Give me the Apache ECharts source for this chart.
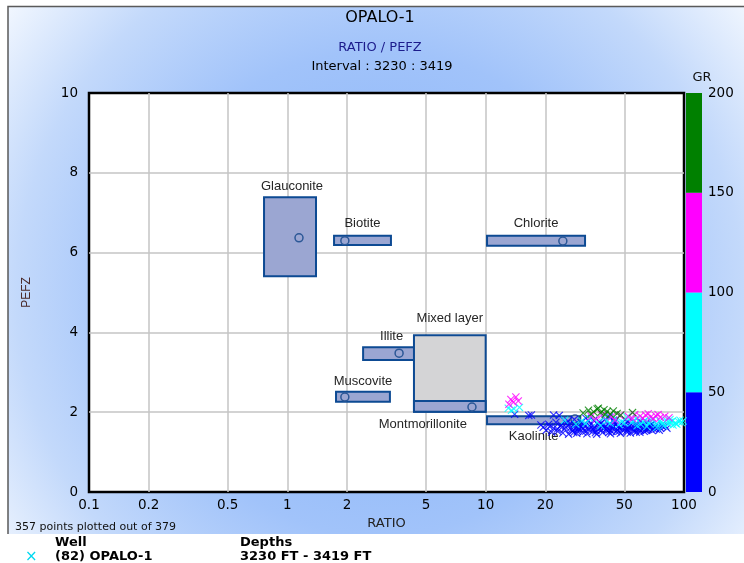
<!DOCTYPE html>
<html>
<head>
<meta charset="utf-8">
<title>OPALO-1 RATIO / PEFZ</title>
<script src="https://cdn.jsdelivr.net/npm/echarts@6/dist/echarts.min.js"></script>
<style>
  html, body { margin: 0; padding: 0; background: #fff; }
  #chart { width: 744px; height: 563px; }
</style>
</head>
<body>
<div id="chart"></div>
<script>
// axis ticks
const ratioTicks = [0.1, 0.2, 0.5, 1, 2, 5, 10, 20, 50, 100]
const grTicks = [0, 50, 100, 150, 200]
const grColors = ['#0000ff', '#00ffff', '#ff00ff', '#008000']

// mineral boxes: ratio range, pefz range, marker point
const mineralNames = ['Glauconite', 'Biotite', 'Chlorite', 'Illite', 'Mixed layer', 'Montmorillonite', 'Muscovite', 'Kaolinite']
const ratioLow = [0.763, 1.72, 10.16, 2.41, 4.35, 4.35, 1.76, 10.16]
const ratioHigh = [1.395, 3.33, 31.7, 4.89, 10.0, 10.0, 3.29, 30.0]
const pefzLow = [5.41, 6.19, 6.17, 3.31, 2.01, 2.01, 2.26, 1.70]
const pefzHigh = [7.39, 6.42, 6.42, 3.63, 3.93, 2.28, 2.51, 1.90]
const markRatio = [1.145, 1.95, 24.5, 3.66, null, 8.53, 1.95, 28.2]
const markPefz = [6.37, 6.30, 6.29, 3.48, null, 2.13, 2.38, 1.83]

// scatter points [RATIO, PEFZ, GR]
const gammaLow = [
  [14.0, 1.95, 30], [16.5, 1.92, 25], [17.0, 1.93, 35], [22.0, 1.93, 40], [23.5, 1.92, 30],
  [19.5, 1.62, 22], [20.2, 1.55, 31], [20.8, 1.70, 18], [21.5, 1.50, 27], [22.0, 1.60, 35],
  [22.6, 1.75, 24], [23.1, 1.52, 38], [23.8, 1.65, 29], [24.5, 1.48, 20], [25.0, 1.58, 33],
  [25.6, 1.72, 26], [26.2, 1.45, 41], [26.9, 1.62, 19], [27.5, 1.53, 30], [28.1, 1.68, 36],
  [28.8, 1.47, 23], [29.5, 1.60, 28], [30.2, 1.74, 34], [30.9, 1.50, 21], [31.6, 1.64, 39],
  [32.4, 1.46, 25], [33.1, 1.57, 32], [33.9, 1.70, 27], [34.7, 1.52, 37], [35.5, 1.63, 22],
  [36.3, 1.45, 30], [37.1, 1.58, 42], [38.0, 1.72, 26], [38.9, 1.49, 33], [39.8, 1.61, 20],
  [40.7, 1.54, 35], [41.6, 1.68, 29], [42.6, 1.46, 24], [43.6, 1.59, 38], [44.6, 1.73, 31],
  [45.6, 1.51, 27], [46.7, 1.64, 22], [47.8, 1.47, 36], [48.9, 1.56, 40], [50.0, 1.70, 25],
  [51.2, 1.53, 30], [52.4, 1.62, 34], [53.6, 1.48, 21], [54.8, 1.58, 28], [56.1, 1.67, 37],
  [57.4, 1.50, 24], [58.7, 1.60, 32], [60.1, 1.55, 26], [61.5, 1.66, 39], [63.0, 1.52, 30],
  [64.5, 1.61, 23], [66.0, 1.57, 35], [67.5, 1.68, 28], [69.1, 1.54, 33], [70.7, 1.63, 25],
  [72.4, 1.58, 31], [74.1, 1.66, 38], [76.0, 1.60, 27], [78.0, 1.64, 34], [82.0, 1.60, 29],
  [35.0, 1.80, 44], [40.0, 1.82, 41], [45.0, 1.78, 46], [50.5, 1.81, 43], [55.5, 1.76, 40],
  [28.0, 1.82, 45], [32.0, 1.85, 42], [60.0, 1.77, 47], [65.0, 1.74, 44], [42.0, 1.88, 48],
  [37.5, 1.76, 39], [27.0, 1.56, 24], [31.0, 1.58, 29], [36.0, 1.54, 33], [41.0, 1.60, 27],
  [46.0, 1.56, 31], [52.0, 1.57, 22], [57.0, 1.55, 36], [62.0, 1.59, 28], [68.0, 1.62, 34],
  [44.0, 1.66, 25], [39.0, 1.67, 30], [34.0, 1.61, 37], [48.0, 1.63, 26], [54.0, 1.70, 32],
  [30.0, 1.66, 23], [24.0, 1.68, 35], [29.0, 1.52, 28], [43.0, 1.52, 31], [58.0, 1.64, 27],
  [25.3, 1.63, 28], [26.5, 1.69, 33], [27.8, 1.49, 25], [29.2, 1.57, 37], [30.6, 1.62, 22],
  [32.0, 1.53, 30], [33.4, 1.66, 35], [34.9, 1.58, 27], [36.8, 1.69, 32], [38.4, 1.55, 24],
  [40.2, 1.65, 38], [42.0, 1.57, 29], [43.9, 1.63, 23], [45.2, 1.69, 34], [47.2, 1.59, 26],
  [49.4, 1.66, 31], [51.7, 1.50, 36], [53.1, 1.65, 28], [55.6, 1.53, 24], [57.9, 1.69, 35],
  [59.4, 1.58, 30], [61.0, 1.71, 27], [63.7, 1.56, 33], [66.8, 1.65, 25], [70.0, 1.59, 38],
  [73.4, 1.61, 29], [77.0, 1.67, 34], [21.0, 1.64, 30], [23.0, 1.58, 26], [19.0, 1.68, 33],
  [35.8, 1.49, 31], [41.8, 1.50, 27], [50.8, 1.59, 35], [59.9, 1.50, 23], [64.9, 1.55, 30],
  [26.0, 1.78, 38], [33.0, 1.79, 41], [44.0, 1.80, 36], [52.0, 1.76, 40], [62.0, 1.73, 42],
  [47.0, 1.52, 24], [38.5, 1.62, 31], [31.3, 1.70, 29], [28.4, 1.60, 34], [54.2, 1.62, 26],
  [68.9, 1.70, 37], [75.0, 1.55, 32], [80.5, 1.65, 28]
]
const gammaMid = [
  [13.0, 2.10, 70], [13.9, 2.08, 80], [14.8, 2.12, 65], [13.5, 2.05, 90],
  [30.5, 1.78, 70], [33.5, 1.84, 65], [36.5, 1.75, 80], [39.5, 1.86, 75], [42.5, 1.72, 60],
  [45.5, 1.83, 85], [48.5, 1.76, 70], [51.5, 1.88, 90], [54.5, 1.74, 65], [57.5, 1.84, 75],
  [60.5, 1.70, 60], [63.5, 1.80, 80], [66.5, 1.73, 70], [69.5, 1.82, 85], [72.5, 1.70, 65],
  [75.5, 1.78, 75], [78.5, 1.72, 60], [81.5, 1.80, 70], [84.5, 1.74, 80], [87.5, 1.78, 65],
  [90.5, 1.72, 75], [94.0, 1.76, 70], [97.0, 1.74, 60], [99.0, 1.78, 80], [88.0, 1.68, 55],
  [92.0, 1.70, 65], [38.0, 1.66, 55], [47.0, 1.69, 60], [58.0, 1.66, 58], [65.0, 1.64, 62],
  [73.0, 1.62, 56], [25.0, 1.80, 60], [28.5, 1.70, 66], [79.0, 1.66, 72], [85.0, 1.82, 68],
  [32.0, 1.72, 70], [41.0, 1.78, 60], [50.0, 1.73, 75], [56.0, 1.79, 65], [62.5, 1.76, 85],
  [68.0, 1.77, 70], [76.5, 1.74, 55], [83.0, 1.70, 66], [95.5, 1.80, 72], [86.0, 1.76, 64]
]
const gammaHigh = [
  [13.4, 2.32, 120], [14.2, 2.38, 125], [13.1, 2.20, 115], [13.8, 2.25, 130], [14.6, 2.28, 110],
  [34.0, 1.90, 120], [38.5, 1.93, 130], [43.0, 1.88, 115], [47.5, 1.92, 125], [52.5, 1.89, 110],
  [56.5, 1.94, 135], [60.0, 1.90, 120], [64.0, 1.93, 115], [68.0, 1.88, 125], [72.0, 1.91, 110],
  [76.0, 1.87, 130], [80.0, 1.90, 120], [84.0, 1.86, 115], [55.0, 1.84, 105], [62.0, 1.85, 140],
  [70.0, 1.84, 118], [45.0, 1.80, 112], [36.0, 1.83, 128], [66.0, 1.96, 122], [74.0, 1.94, 116]
]
const gammaVeryHigh = [
  [31.0, 1.98, 170], [33.0, 2.05, 180], [35.0, 2.01, 165], [36.5, 2.08, 175], [38.0, 1.99, 160],
  [39.5, 2.06, 185], [41.0, 2.02, 170], [42.5, 1.95, 165], [44.0, 2.03, 175], [46.0, 1.97, 160],
  [48.0, 1.93, 170], [55.0, 1.99, 165], [34.0, 1.95, 160], [40.0, 1.94, 172], [37.0, 2.10, 178]
]

const lg = v => Math.log10(v)
const points = gammaLow.concat(gammaMid, gammaHigh, gammaVeryHigh).map(p => [lg(p[0]), p[1], p[2]])

const mineralData = mineralNames.map((name, i) => ({
  name,
  value: [lg(ratioLow[i]), lg(ratioHigh[i]), pefzLow[i], pefzHigh[i],
    markRatio[i] == null ? null : lg(markRatio[i]), markPefz[i]]
}))

// where each mineral's name sits relative to its box
const labelPlace = {
  'Glauconite': { side: 'top', gap: 11, dx: 2 },
  'Biotite': { side: 'top', gap: 12, dx: 0 },
  'Chlorite': { side: 'top', gap: 12, dx: 0 },
  'Illite': { side: 'top', gap: 11, dx: -2 },
  'Mixed layer': { side: 'top', gap: 17, dx: 0 },
  'Montmorillonite': { side: 'bottom', gap: 13, dx: -27 },
  'Muscovite': { side: 'top', gap: 10, dx: 0 },
  'Kaolinite': { side: 'bottom', gap: 12, dx: 0 }
}

const crossPath = 'path://M1,0L5,4L9,0L10,1L6,5L10,9L9,10L5,6L1,10L0,9L4,5L0,1Z'
const axisFont = 'DejaVu Sans'

const renderMineral = (params, api) => {
  const name = mineralNames[params.dataIndex]
  const tl = api.coord([api.value(0), api.value(3)])
  const br = api.coord([api.value(1), api.value(2)])
  const fill = name === 'Mixed layer' ? '#d4d4d6' : '#9ba6d2'
  const children = [{
    type: 'rect',
    shape: { x: tl[0], y: tl[1], width: br[0] - tl[0], height: br[1] - tl[1] },
    style: { fill, stroke: '#0d4a93', lineWidth: 2 }
  }]
  if (markRatio[params.dataIndex] != null) {
    const c = api.coord([api.value(4), api.value(5)])
    children.push({
      type: 'circle',
      shape: { cx: c[0], cy: c[1], r: 4 },
      style: { fill: '#9ba6d2', stroke: '#2b5796', lineWidth: 1.5 }
    })
  }
  const lp = labelPlace[name]
  children.push({
    type: 'text',
    style: {
      text: name,
      x: (tl[0] + br[0]) / 2 + lp.dx,
      y: lp.side === 'top' ? tl[1] - lp.gap : br[1] + lp.gap,
      fill: '#262626',
      font: '13px "Liberation Sans", Arial, sans-serif',
      align: 'center',
      verticalAlign: 'middle'
    }
  })
  return { type: 'group', children }
}

const chart = echarts.init(document.getElementById('chart'))

const option = {
  animation: false,
  backgroundColor: {
    type: 'radial', x: 0.51, y: 0.52, r: 0.86,
    colorStops: [
      { offset: 0, color: '#84b1f8' },
      { offset: 0.5, color: '#a1c3fa' },
      { offset: 0.75, color: '#c3d9fb' },
      { offset: 1, color: '#f8fbff' }
    ]
  },
  grid: [
    { left: 89, right: 60, top: 93, bottom: 71, show: true, backgroundColor: '#ffffff', borderColor: '#000', borderWidth: 2.5 },
    { left: 686, right: 42, top: 93, bottom: 71 }
  ],
  xAxis: [
    {
      type: 'value', gridIndex: 0, min: -1, max: 2,
      axisLine: { show: false },
      axisTick: { show: false, customValues: ratioTicks.map(lg) },
      axisLabel: {
        customValues: ratioTicks.map(lg),
        formatter: v => String(+Math.pow(10, v).toPrecision(3)),
        color: '#000', fontFamily: axisFont, fontSize: 13.5, margin: 6
      },
      splitLine: { show: true, showMinLine: false, showMaxLine: false, lineStyle: { color: '#c4c4c4', width: 1.5 } },
      name: 'RATIO', nameLocation: 'middle', nameGap: 24,
      nameTextStyle: { color: '#222', fontFamily: axisFont, fontSize: 13 }
    },
    {
      type: 'category', gridIndex: 1, data: ['GR'], show: false
    }
  ],
  yAxis: [
    {
      type: 'value', gridIndex: 0, min: 0, max: 10, interval: 2,
      axisLine: { show: false },
      axisTick: { show: false },
      axisLabel: { color: '#000', fontFamily: axisFont, fontSize: 13.5, margin: 11 },
      splitLine: { show: true, showMinLine: false, showMaxLine: false, lineStyle: { color: '#c4c4c4', width: 1.5 } },
      name: 'PEFZ', nameLocation: 'middle', nameGap: 56,
      nameTextStyle: { color: '#4a2a2a', fontFamily: 'Liberation Sans', fontSize: 12 }
    },
    {
      type: 'value', gridIndex: 1, min: grTicks[0], max: grTicks[grTicks.length - 1], interval: 50,
      position: 'right',
      axisLine: { show: false },
      axisTick: { show: false },
      splitLine: { show: false },
      axisLabel: { color: '#000', fontFamily: axisFont, fontSize: 13.5, margin: 6 },
      name: 'GR', nameLocation: 'end', nameGap: 9,
      nameTextStyle: { color: '#111', fontFamily: axisFont, fontSize: 13, align: 'center' }
    }
  ],
  visualMap: {
    type: 'piecewise', show: false, dimension: 2, seriesIndex: 1,
    pieces: grColors.map((color, i) => ({ gte: grTicks[i], lt: grTicks[i + 1], color }))
  },
  series: [
    {
      type: 'custom',
      xAxisIndex: 0, yAxisIndex: 0,
      renderItem: renderMineral,
      encode: { x: [0, 1, 4], y: [2, 3, 5] },
      data: mineralData,
      z: 2
    },
    {
      type: 'scatter',
      xAxisIndex: 0, yAxisIndex: 0,
      symbol: crossPath,
      symbolSize: 8,
      data: points,
      z: 3
    }
  ].concat(grColors.map((color, i) => ({
    type: 'bar',
    xAxisIndex: 1, yAxisIndex: 1,
    stack: 'gr',
    barWidth: '100%',
    itemStyle: { color },
    data: [grTicks[i + 1] - grTicks[i]]
  }))),
  graphic: [
    { type: 'rect', shape: { x: 0, y: 534, width: 744, height: 29 }, style: { fill: '#ffffff' }, z: 1 },
    { type: 'rect', shape: { x: 0, y: 0, width: 744, height: 6 }, style: { fill: '#ffffff' }, z: 1 },
    { type: 'rect', shape: { x: 0, y: 0, width: 8, height: 534 }, style: { fill: '#ffffff' }, z: 1 },
    { type: 'polyline', shape: { points: [[8, 534], [8, 6.5], [744, 6.5]] }, style: { stroke: '#5a5a5a', lineWidth: 1.5, fill: null }, z: 2 },
    { type: 'text', x: 380, y: 18, style: { text: 'OPALO-1', fill: '#000', font: '16px "DejaVu Sans"', align: 'center', verticalAlign: 'middle' }, z: 5 },
    { type: 'text', x: 380, y: 48, style: { text: 'RATIO / PEFZ', fill: '#1c1c8c', font: '13px "DejaVu Sans"', align: 'center', verticalAlign: 'middle' }, z: 5 },
    { type: 'text', x: 382, y: 67, style: { text: 'Interval : 3230 : 3419', fill: '#000', font: '13px "DejaVu Sans"', align: 'center', verticalAlign: 'middle' }, z: 5 },
    { type: 'text', x: 15, y: 527, style: { text: '357 points plotted out of 379', fill: '#111', font: '11px "DejaVu Sans"', verticalAlign: 'middle' }, z: 5 },
    { type: 'text', x: 55, y: 543, style: { text: 'Well', fill: '#000', font: 'bold 13px "DejaVu Sans"', verticalAlign: 'middle' }, z: 5 },
    { type: 'text', x: 240, y: 543, style: { text: 'Depths', fill: '#000', font: 'bold 13px "DejaVu Sans"', verticalAlign: 'middle' }, z: 5 },
    { type: 'text', x: 25, y: 557, style: { text: '×', fill: '#00d8f0', font: '15px "DejaVu Sans"', verticalAlign: 'middle' }, z: 5 },
    { type: 'text', x: 55, y: 557, style: { text: '(82) OPALO-1', fill: '#000', font: 'bold 13px "DejaVu Sans"', verticalAlign: 'middle' }, z: 5 },
    { type: 'text', x: 240, y: 557, style: { text: '3230 FT - 3419 FT', fill: '#000', font: 'bold 13px "DejaVu Sans"', verticalAlign: 'middle' }, z: 5 }
  ]
}

chart.setOption(option)
</script>
</body>
</html>
